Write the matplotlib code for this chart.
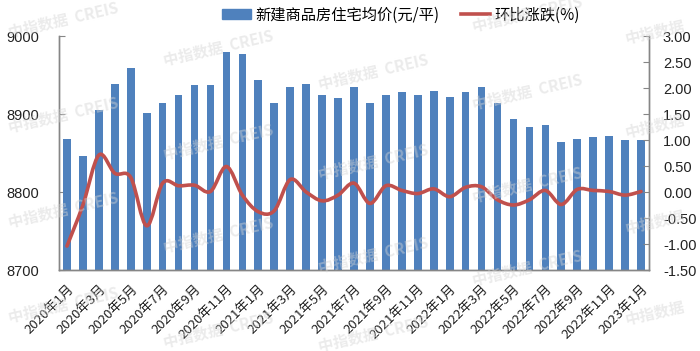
import numpy as np
import matplotlib
matplotlib.use("Agg")
import matplotlib.pyplot as plt
from matplotlib.path import Path
from matplotlib.patches import PathPatch
from matplotlib.lines import Line2D

plt.rcParams['font.family'] = ['Liberation Sans', 'Noto Sans CJK SC', 'DejaVu Sans']

# -----------------------------------
# Data
# -----------------------------------

months = [f"{2020 + i // 12}年{i % 12 + 1}月" for i in range(37)]

avg_price = [8868, 8846, 8905, 8938, 8959, 8901, 8914, 8925, 8937, 8937,
             8980, 8977, 8944, 8914, 8935, 8938, 8925, 8920, 8935, 8914,
             8925, 8928, 8925, 8930, 8922, 8928, 8935, 8914, 8893, 8883,
             8886, 8864, 8868, 8871, 8872, 8867, 8867]

mom_change = [-1.04, -0.25, 0.71, 0.36, 0.28, -0.65, 0.17, 0.12, 0.13, 0.01,
              0.49, -0.06, -0.38, -0.36, 0.24, 0.00, -0.17, -0.06, 0.17, -0.22,
              0.12, 0.03, -0.03, 0.06, -0.09, 0.09, 0.10, -0.15, -0.25, -0.15,
              0.03, -0.24, 0.05, 0.03, 0.01, -0.06, 0.01]

bar_label = "新建商品房住宅均价(元/平)"
line_label = "环比涨跌(%)"

bar_color = "#4F81BD"
line_color = "#C0504D"
spine_color = "#868686"

# -----------------------------------
# Figure
# -----------------------------------

fig = plt.figure(figsize=(7, 3.51), dpi=100)
ax = fig.add_axes([59 / 700, 81 / 351, 590 / 700, 234 / 351])
ax2 = ax.twinx()

x = np.arange(len(months))
ax.bar(x, avg_price, width=0.48, color=bar_color, zorder=2)

ax.set_xlim(-0.5, len(months) - 0.5)
ax.set_ylim(8700, 9000)
ax.set_yticks([8700, 8800, 8900, 9000])
ax.set_xticks(x[::2])
ax.set_xticklabels(months[::2], rotation=45, ha='right', va='top',
                   rotation_mode='anchor', fontsize=9.5,
                   family=['Noto Sans CJK SC', 'DejaVu Sans'], color='#222222')
ax.tick_params(axis='x', length=0, pad=9)
ax.tick_params(axis='y', direction='in', length=4, color=spine_color,
               labelsize=10.5, pad=14, labelcolor='#222222')

# smooth line (Excel style) drawn as bezier through the data points
pts = np.column_stack([x, mom_change]).astype(float)
verts = [tuple(pts[0])]
codes = [Path.MOVETO]
n = len(pts)
for i in range(n - 1):
    p0 = pts[i - 1] if i > 0 else pts[i]
    p1 = pts[i]
    p2 = pts[i + 1]
    p3 = pts[i + 2] if i + 2 < n else pts[i + 1]
    c1 = p1 + (p2 - p0) / 6.0
    c2 = p2 - (p3 - p1) / 6.0
    verts += [tuple(c1), tuple(c2), tuple(p2)]
    codes += [Path.CURVE4, Path.CURVE4, Path.CURVE4]
ax2.add_patch(PathPatch(Path(verts, codes), facecolor='none',
                        edgecolor=line_color, lw=2.6, capstyle='round',
                        joinstyle='round', zorder=3))

ax2.set_ylim(-1.5, 3.0)
ax2.set_yticks(np.arange(-1.5, 3.01, 0.5))
ax2.yaxis.set_major_formatter(matplotlib.ticker.FormatStrFormatter('%.2f'))
ax2.tick_params(axis='y', direction='in', length=4, color=spine_color,
                labelsize=10.5, pad=10, labelcolor='#222222')

for a in (ax, ax2):
    a.spines['top'].set_visible(False)
    for s in ('left', 'right', 'bottom'):
        a.spines[s].set_color(spine_color)
        a.spines[s].set_linewidth(1.0)

# -----------------------------------
# Legend
# -----------------------------------

handles = [plt.Rectangle((0, 0), 1, 1, color=bar_color),
           Line2D([0], [0], color=line_color, lw=2.6)]
fig.legend(handles, [bar_label, line_label], loc='center',
           bbox_to_anchor=(0.573, 0.957), ncol=2, frameon=False,
           prop={'family': ['Noto Sans CJK SC', 'DejaVu Sans'], 'size': 11},
           handlelength=1.9, handleheight=0.6, handletextpad=0.3,
           columnspacing=1.4, borderpad=0)

# -----------------------------------
# Watermark
# -----------------------------------

marks = [(63, 20), (218, 48), (373, 72), (527, 14),
         (63, 115), (218, 142), (373, 162), (527, 92),
         (63, 210), (218, 235), (373, 255), (527, 185),
         (63, 305), (218, 330), (373, 334), (527, 268)]
for mx, my in marks:
    fig.text(mx / 700, 1 - my / 351, "中指数据  CREIS", rotation=13,
             ha='center', va='center', fontsize=11, fontweight='bold',
             color='#d4d4d4', alpha=0.45, zorder=10,
             family=['Noto Sans CJK SC', 'DejaVu Sans'])

# right edge column only shows the Chinese part
for my in [32, 126, 222, 313]:
    fig.text(655 / 700, 1 - my / 351, "中指数据", rotation=13,
             ha='center', va='center', fontsize=11, fontweight='bold',
             color='#d4d4d4', alpha=0.45, zorder=10,
             family=['Noto Sans CJK SC', 'DejaVu Sans'])

plt.savefig("out.png", dpi=100)
